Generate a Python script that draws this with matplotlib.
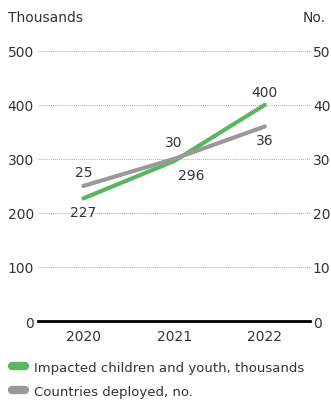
import numpy as np
import matplotlib.pyplot as plt
from matplotlib.lines import Line2D

years = ['2020', '2021', '2022']
children = [227, 296, 400]
countries = [25, 30, 36]

green = '#5cb65f'
grey = '#999999'
txt = '#333333'

fig = plt.figure(figsize=(3.31, 4.02), dpi=100)
ax = fig.add_axes([0.115, 0.199, 0.822, 0.672])
ax2 = ax.twinx()

x = np.arange(len(years))
ax.plot(x, children, color=green, lw=3, solid_capstyle='round', zorder=3)
ax2.plot(x, countries, color=grey, lw=3, solid_capstyle='round', zorder=3)

ax.set_xlim(-0.5, 2.5)
ax.set_ylim(0, 500)
ax2.set_ylim(0, 50)
ax.set_yticks(range(0, 501, 100))
ax2.set_yticks(range(0, 51, 10))
ax.set_xticks(x)
ax.set_xticklabels(years)

for a in (ax, ax2):
    for s in a.spines.values():
        s.set_visible(False)
    a.tick_params(length=0, labelsize=10, colors=txt, pad=3)
ax2.tick_params(pad=2)
ax.tick_params(axis='x', pad=6, labelsize=10)
ax.yaxis.grid(True, linestyle=(0, (1, 1.5)), color='#8a8a8a', lw=0.6)
ax.axhline(0, color='black', lw=2, zorder=4, clip_on=False)

# data labels
fs = 10
ax.annotate(str(children[0]), (x[0], children[0]), xytext=(0, -5), textcoords='offset points',
            ha='center', va='top', fontsize=fs, color=txt)
ax.annotate(str(children[1]), (x[1], children[1]), xytext=(12, -5), textcoords='offset points',
            ha='center', va='top', fontsize=fs, color=txt)
ax.annotate(str(children[2]), (x[2], children[2]), xytext=(0, 4), textcoords='offset points',
            ha='center', va='bottom', fontsize=fs, color=txt)
ax2.annotate(str(countries[0]), (x[0], countries[0]), xytext=(0, 5), textcoords='offset points',
             ha='center', va='bottom', fontsize=fs, color=txt)
ax2.annotate(str(countries[1]), (x[1], countries[1]), xytext=(0, 7), textcoords='offset points',
             ha='center', va='bottom', fontsize=fs, color=txt)
ax2.annotate(str(countries[2]), (x[2], countries[2]), xytext=(0, -5), textcoords='offset points',
             ha='center', va='top', fontsize=fs, color=txt)

fig.text(0.024, 0.955, 'Thousands', fontsize=10, color=txt, va='center', ha='left')
fig.text(0.985, 0.955, 'No.', fontsize=10, color=txt, va='center', ha='right')

handles = [Line2D([], [], color=green, lw=6, solid_capstyle='round'),
           Line2D([], [], color=grey, lw=6, solid_capstyle='round')]
fig.legend(handles, ['Impacted children and youth, thousands', 'Countries deployed, no.'],
           loc='lower left', bbox_to_anchor=(0.0, -0.022), frameon=False, fontsize=9.5,
           handlelength=1.0, handletextpad=0.7, labelspacing=0.85, labelcolor=txt)

fig.savefig('out.png', dpi=100)
